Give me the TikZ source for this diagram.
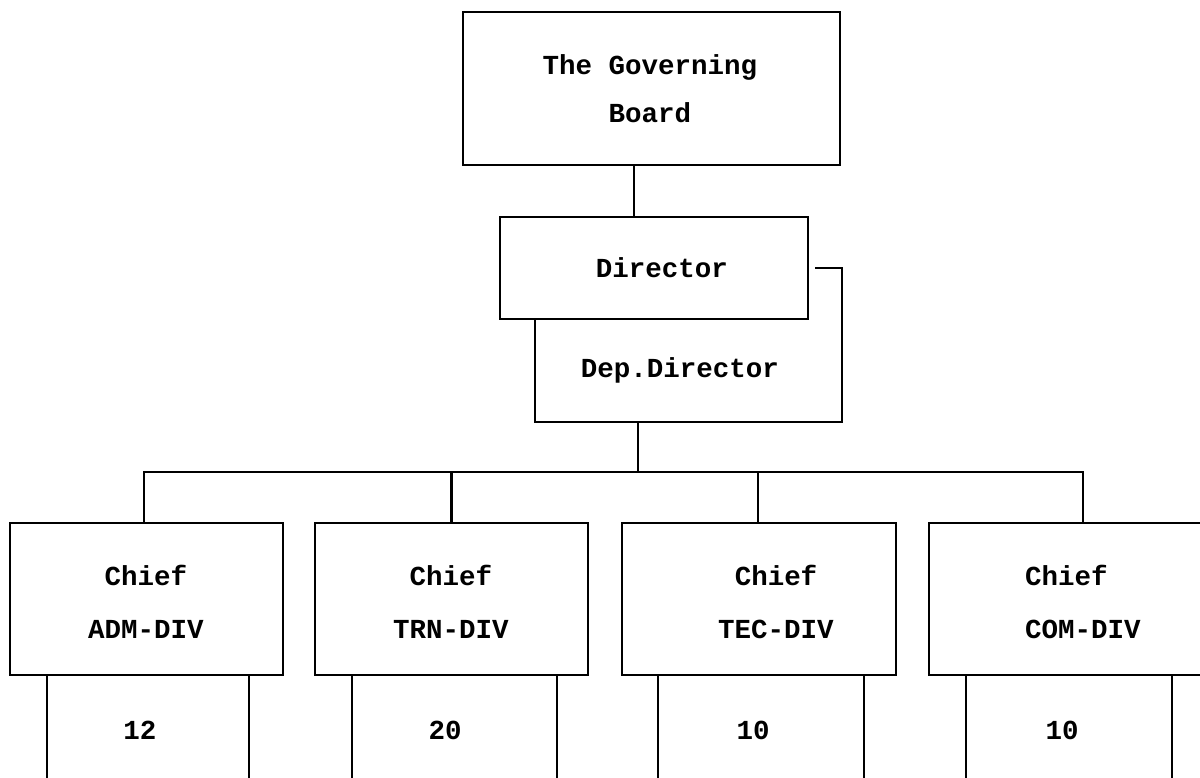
\documentclass[tikz,border=0pt]{standalone}
\usepackage{fontspec}
\setmonofont{Liberation Mono}
\begin{document}
\begin{tikzpicture}[x=1pt,y=-1pt,
  ln/.style={line width=2.4pt, line cap=rect},
  box/.style={draw, line width=2.4pt, rectangle, inner sep=0pt},
  frame/.style={draw=none, rectangle, inner sep=0pt},
  txt/.style={inner sep=0pt, align=center, font=\ttfamily\bfseries\fontsize{27.5}{53}\selectfont}]
\useasboundingbox (0,0) rectangle (1200,777);
\clip (0,0) rectangle (1200,777);
% boxes
\node[box, minimum width=377pt, minimum height=153pt] (board) at (651.5,88.5) {};
\node[box, minimum width=308pt, minimum height=102pt] (dir) at (654,268) {};
\node[frame, minimum width=307pt, minimum height=103pt] (dep) at (688.5,370.5) {};
\node[box, minimum width=273pt, minimum height=152pt] (adm) at (146.5,599) {};
\node[box, minimum width=273pt, minimum height=152pt] (trn) at (451.5,599) {};
\node[box, minimum width=274pt, minimum height=152pt] (tec) at (759,599) {};
\node[box, minimum width=274pt, minimum height=152pt] (com) at (1066,599) {};
\node[frame, minimum width=202pt, minimum height=110pt] (admlow) at (148,730) {};
\node[frame, minimum width=205pt, minimum height=110pt] (trnlow) at (454.5,730) {};
\node[frame, minimum width=206pt, minimum height=110pt] (teclow) at (761,730) {};
\node[frame, minimum width=206pt, minimum height=110pt] (comlow) at (1069,730) {};
% texts
\node[txt] (tboard) at (650,89) {The Governing\\[-5pt]Board};
\node[txt] (tdir) at (662,268) {Director};
\node[txt] (tdep) at (680,370) {Dep.Director};
\node[txt] (tadm) at (146,601.5) {Chief\\ADM-DIV};
\node[txt] (ttrn) at (451,601.5) {Chief\\TRN-DIV};
\node[txt] (ttec) at (776,601.5) {Chief\\TEC-DIV};
\node[txt, align=left, anchor=west] (tcom) at (1025,601.5) {Chief\\COM-DIV};
\node[txt] (nadm) at (140,730) {12};
\node[txt] (ntrn) at (445,730) {20};
\node[txt] (ntec) at (753,730) {10};
\node[txt] (ncom) at (1062,730) {10};
% connectors
\coordinate (bus) at (638,472);
\draw[ln] ([xshift=-17.5pt]board.south) -- ([xshift=-17.5pt]board.south |- dir.north);
\draw[ln] ([xshift=7pt]dir.east) -| (dep.south east) -- (dep.south west) -- (dep.north west);
\draw[ln] (bus |- dep.south) -- (bus);
\draw[ln] ([xshift=-2.5pt]adm.north |- bus) -- ([xshift=17pt]com.north |- bus);
\draw[ln] ([xshift=-2.5pt]adm.north) -- ([xshift=-2.5pt]adm.north |- bus);
\draw[ln] (trn.north) -- (trn.north |- bus);
\draw[ln] ([xshift=-1pt]tec.north) -- ([xshift=-1pt]tec.north |- bus);
\draw[ln] ([xshift=17pt]com.north) -- ([xshift=17pt]com.north |- bus);
\foreach \n in {admlow,trnlow,teclow,comlow}{
  \draw[ln] (\n.north west) -- (\n.south west);
  \draw[ln] (\n.north east) -- (\n.south east);
}
\end{tikzpicture}
\end{document}
